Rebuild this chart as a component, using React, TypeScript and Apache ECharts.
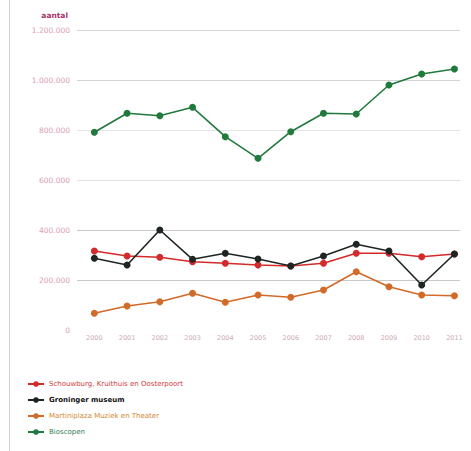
import React, { useEffect, useRef } from "react";
import * as echarts from "echarts";

const years = ["2000", "2001", "2002", "2003", "2004", "2005", "2006", "2007", "2008", "2009", "2010", "2011"];

const schouwburg = [318800, 298800, 293600, 276000, 269600, 262800, 258800, 269600, 309600, 309600, 296000, 306800];
const groninger = [289600, 262800, 402800, 285600, 309600, 286800, 258800, 298800, 345600, 318800, 182800, 306800];
const martiniplaza = [69600, 98800, 116000, 149600, 113600, 142800, 133600, 162800, 236000, 176000, 142800, 140000];
const bioscopen = [793600, 869600, 860000, 893600, 776000, 689600, 796000, 869600, 866800, 982800, 1026800, 1046800];

const seriesNames = [
  "Schouwburg, Kruithuis en Oosterpoort",
  "Groninger museum",
  "Martiniplaza Muziek en Theater",
  "Bioscopen",
];
const seriesColors = ["#d42a2a", "#1e2623", "#d26a28", "#1f7a3c"];
const legendTextColors = ["#d63a3a", "#111111", "#d4862e", "#2f7d55"];
const seriesData = [schouwburg, groninger, martiniplaza, bioscopen];

function fmt(v: number): string {
  return String(Math.round(v)).replace(/\B(?=(\d{3})+(?!\d))/g, ".");
}

export default function App() {
  const ref = useRef<HTMLDivElement>(null);
  useEffect(() => {
    if (!ref.current) return;
    const chart = echarts.init(ref.current, undefined, { renderer: "svg" });
    chart.setOption({
      animation: false,
      backgroundColor: "#ffffff",
      grid: { left: 77, right: 11, top: 30.7, bottom: 120.3, containLabel: false },
      xAxis: {
        type: "value",
        min: -0.53,
        max: 11.17,
        axisLine: { show: false },
        axisTick: { show: false },
        splitLine: { show: false },
        axisLabel: {
          customValues: years.map((_, i) => i),
          formatter: (v: number) => years[Math.round(v)] ?? "",
          color: "#cfa9b4",
          fontSize: 6.5,
          margin: 4,
          fontFamily: "DejaVu Sans",
        },
      },
      yAxis: {
        type: "value",
        min: 0,
        max: 1200000,
        interval: 200000,
        axisLine: { show: false },
        axisTick: { show: false },
        axisLabel: {
          formatter: (v: number) => fmt(v),
          color: "#dc9db2",
          fontSize: 7.5,
          margin: 7,
          fontFamily: "DejaVu Sans",
        },
        splitLine: {
          show: true,
          lineStyle: {
            color: ["transparent", "#c8c8c8", "#c8c8c8", "#e0e0e0", "#e4e4e4", "#d4d4d4", "#d4d4d4"],
            width: 1,
          },
        },
      },
      legend: {
        orient: "vertical",
        left: 27,
        top: 380.5,
        padding: 0,
        itemWidth: 16,
        itemHeight: 7,
        itemGap: 9,
        textStyle: { fontSize: 7, fontFamily: "DejaVu Sans" },
        data: seriesNames.map((n, i) => ({
          name: n,
          textStyle: {
            color: legendTextColors[i],
            fontWeight: i === 1 ? "bold" : "normal",
            fontSize: 7,
          },
        })),
      },
      graphic: [
        {
          type: "line",
          shape: { x1: 9.5, y1: 0, x2: 9.5, y2: 451 },
          style: { stroke: "#d0d0d0", lineWidth: 1 },
          silent: true,
        },
        {
          type: "text",
          right: 403,
          top: 11,
          style: {
            text: "aantal",
            fill: "#a8336b",
            font: "bold 7.5px 'DejaVu Sans'",
          },
          silent: true,
        },
      ],
      series: seriesNames.map((n, i) => ({
        name: n,
        type: "line",
        data: seriesData[i].map((v, j) => [j, v]),
        symbol: "circle",
        symbolSize: 7,
        color: seriesColors[i],
        lineStyle: { width: 1.6, color: seriesColors[i] },
        itemStyle: { color: seriesColors[i] },
        z: i === 1 ? 3 : 2,
      })),
    });
    return () => chart.dispose();
  }, []);
  return (
    <div
      ref={ref}
      style={{ position: "fixed", left: 0, top: 0, width: 471, height: 451 }}
    />
  );
}
